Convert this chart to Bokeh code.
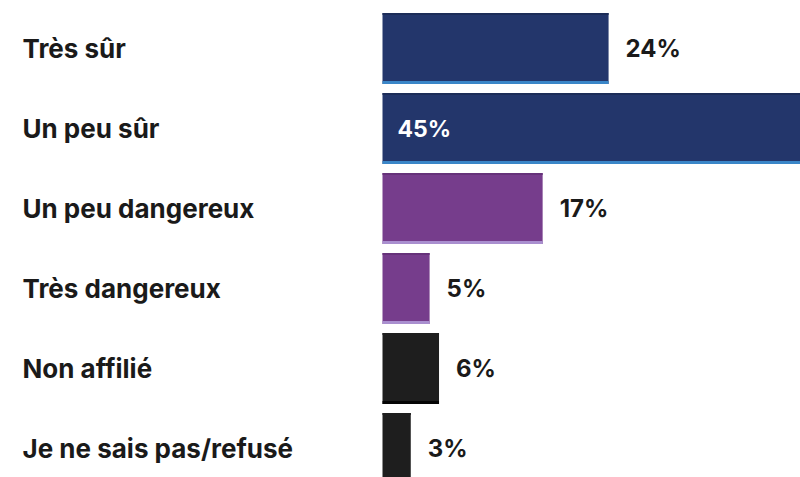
from bokeh.plotting import figure
from bokeh.models import Range1d, ColumnDataSource
from bokeh.core.properties import value
from bokeh.embed import file_html
from bokeh.resources import INLINE

categories = ["Très sûr", "Un peu sûr", "Un peu dangereux", "Très dangereux", "Non affilié", "Je ne sais pas/refusé"]
values = [24, 45, 17, 5, 6, 3]
colors = ["#23366b", "#23366b", "#763d8c", "#763d8c", "#1e1e1e", "#1e1e1e"]
edge_colors = ["#3a86c8", "#3a86c8", "#a98fcf", "#a98fcf", "#050505", "#050505"]
top_colors = ["#1c2c58", "#1c2c58", "#66327a", "#66327a", "#1e1e1e", "#1e1e1e"]
labels = [f"{v}%" for v in values]

W, H = 800, 477
px_per_unit = 9.42
bar_left_px = 382
x_start = -bar_left_px / px_per_unit
x_end = x_start + W / px_per_unit
pitch = 80.0
y_top = -48 / pitch
y_bottom = y_top + H / pitch

ys = list(range(len(categories)))
bar_h = 71 / pitch
strip = 3 / pitch
top_strip = 2 / pitch

max_v = max(values)
inside = [v == max_v for v in values]

src = ColumnDataSource(dict(
    y=ys, v=values, c=colors, ec=edge_colors, tc=top_colors, cat=categories,
    lab=[l if not ins else "" for l, ins in zip(labels, inside)],
    lab_in=[l if ins else "" for l, ins in zip(labels, inside)],
    ybot=[y + bar_h / 2 - strip / 2 for y in ys],
    ytop=[y - bar_h / 2 + top_strip / 2 for y in ys],
    xs=[x_start] * len(ys),
))

p = figure(width=W, height=H, x_range=Range1d(x_start, x_end), y_range=Range1d(y_bottom, y_top),
           output_backend="svg", toolbar_location=None, min_border=0)
p.axis.visible = False
p.grid.visible = False
p.outline_line_color = None
p.background_fill_color = "white"
p.border_fill_color = "white"

p.hbar(y="y", left=0, right="v", height=bar_h, fill_color="c", line_color=None, source=src)
p.hbar(y="ytop", left=0, right="v", height=top_strip, fill_color="tc", line_color=None, source=src)
p.hbar(y="ybot", left=0, right="v", height=strip, fill_color="ec", line_color=None, source=src)

font = value("Inter")
p.text(x="xs", y="y", text="cat", x_offset=22, text_font=font, text_font_style="bold",
       text_font_size="26px", text_color="#1a1a1a", text_baseline="middle", text_align="left", source=src)
p.text(x="v", y="y", text="lab", x_offset=17, text_font=font, text_font_style="bold",
       text_font_size="24px", text_color="#1a1a1a", text_baseline="middle", text_align="left", source=src)
p.text(x=0, y="y", text="lab_in", x_offset=15, text_font=font, text_font_style="bold",
       text_font_size="23px", text_color="white", text_baseline="middle", text_align="left", source=src)

open("out.html", "w").write(file_html(p, INLINE))
